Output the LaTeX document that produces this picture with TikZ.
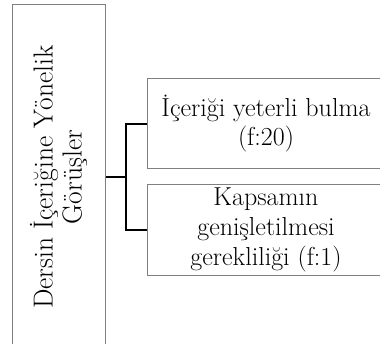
\documentclass[tikz,border=0pt]{standalone}
\usepackage{tikz}
\usetikzlibrary{positioning}

\tikzset{
  box/.style={draw=black!50, line width=1pt, align=center, inner sep=2pt,
              font=\fontsize{26}{29}\selectfont},
  link/.style={black, line width=1.6pt},
}

\begin{document}
\begin{tikzpicture}[x=1pt,y=-1pt]
\useasboundingbox (0,0) rectangle (380,344);
\clip (0,0) rectangle (380,344);

% main theme, written upwards
\node [box, font=\fontsize{27.5}{29}\selectfont, rotate=90, minimum width=344pt, minimum height=93pt] (gorus) at (58.5,177)
  {Dersin İçeriğine Yönelik\\Görüşler};

% sub themes
\node [box, minimum width=238pt, minimum height=90pt] (yeterli) at (266,124)
  {İçeriği yeterli bulma\\(f:20)};
\node [box, font=\fontsize{26}{30}\selectfont, minimum width=238pt, minimum height=91pt] (kapsam) at (266,230)
  {Kapsamın\\genişletilmesi\\gerekliliği (f:1)};

\coordinate (split) at (126,177);
\draw [link] (gorus.south) -- (split);
\draw [link] (split) |- (yeterli.west);
\draw [link] (split) |- (kapsam.west);
\end{tikzpicture}
\end{document}
